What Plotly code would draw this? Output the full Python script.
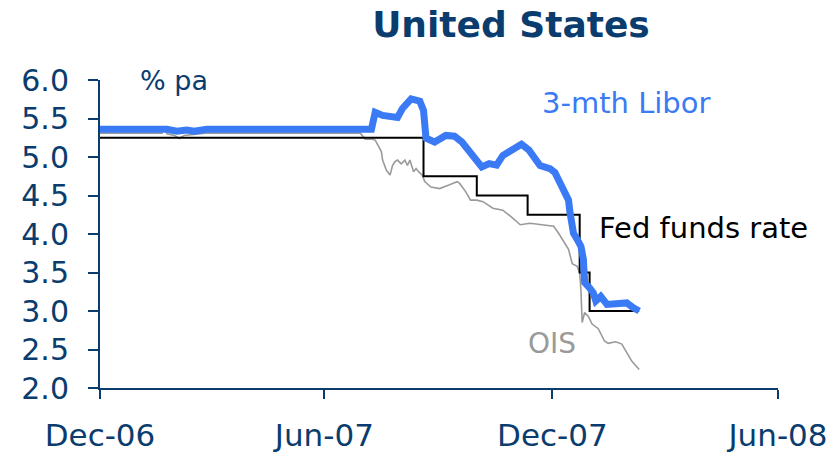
import plotly.graph_objects as go

# ---- data ----
libor_dates = ["2006-12-29", "2007-02-23", "2007-03-03", "2007-03-11", "2007-03-17", "2007-03-27",
               "2007-08-07", "2007-08-10", "2007-08-16", "2007-08-28", "2007-09-01", "2007-09-08",
               "2007-09-15", "2007-09-18", "2007-09-20", "2007-09-27", "2007-10-06", "2007-10-13",
               "2007-10-19", "2007-10-27", "2007-11-04", "2007-11-10", "2007-11-16", "2007-11-21",
               "2007-11-29", "2007-12-06", "2007-12-12", "2007-12-18", "2007-12-21", "2007-12-29",
               "2008-01-02", "2008-01-05", "2008-01-10", "2008-01-13", "2008-01-14", "2008-01-15",
               "2008-01-17", "2008-01-20", "2008-01-23", "2008-01-25", "2008-01-26", "2008-01-30",
               "2008-02-02", "2008-02-04", "2008-02-08", "2008-02-13", "2008-02-23", "2008-02-29",
               "2008-03-05", "2008-03-10"]
libor_vals = [5.36, 5.36, 5.335, 5.35, 5.335, 5.36,
              5.36, 5.58, 5.54, 5.515, 5.63, 5.755,
              5.725, 5.605, 5.245, 5.195, 5.28, 5.27,
              5.195, 5.02, 4.87, 4.915, 4.895, 5.02,
              5.11, 5.165, 5.09, 4.94, 4.89, 4.85,
              4.80, 4.70, 4.55, 4.44, 4.30, 4.18,
              4.01, 3.93, 3.84, 3.67, 3.37, 3.30,
              3.235, 3.13, 3.19, 3.085, 3.10, 3.105,
              3.045, 3.00]

ois_dates = ["2006-12-29", "2007-02-19", "2007-02-21", "2007-02-23", "2007-03-01", "2007-03-05",
             "2007-03-09", "2007-03-16", "2007-03-26", "2007-07-29", "2007-08-02", "2007-08-08",
             "2007-08-10", "2007-08-13", "2007-08-15", "2007-08-16", "2007-08-19", "2007-08-22",
             "2007-08-24", "2007-08-26", "2007-08-28", "2007-08-31", "2007-09-03", "2007-09-05",
             "2007-09-07", "2007-09-10", "2007-09-12", "2007-09-14", "2007-09-17", "2007-09-19",
             "2007-09-24", "2007-10-01", "2007-10-05", "2007-10-09", "2007-10-15", "2007-10-17",
             "2007-10-22", "2007-10-26", "2007-10-31", "2007-11-05", "2007-11-13", "2007-11-21",
             "2007-11-29", "2007-12-05", "2007-12-13", "2007-12-22", "2008-01-01", "2008-01-05",
             "2008-01-10", "2008-01-13", "2008-01-16", "2008-01-20", "2008-01-22", "2008-01-23",
             "2008-01-24", "2008-01-26", "2008-01-29", "2008-02-01", "2008-02-06", "2008-02-11",
             "2008-02-14", "2008-02-20", "2008-02-25", "2008-02-29", "2008-03-04", "2008-03-10"]
ois_vals = [5.31, 5.31, 5.39, 5.30, 5.28, 5.24,
            5.28, 5.29, 5.31, 5.31, 5.23, 5.23,
            5.22, 5.13, 5.07, 4.96, 4.83, 4.765,
            4.89, 4.94, 4.96, 4.91, 4.96, 4.89,
            4.96, 4.81, 4.85, 4.81, 4.765, 4.68,
            4.61, 4.59, 4.61, 4.64, 4.68, 4.66,
            4.55, 4.44, 4.44, 4.42, 4.335, 4.31,
            4.205, 4.12, 4.14, 4.12, 4.10, 4.01,
            3.88, 3.80, 3.615, 3.58, 3.495, 3.28,
            2.85, 2.98, 2.93, 2.83, 2.77, 2.61,
            2.58, 2.60, 2.57, 2.46, 2.35, 2.24]

fed_dates = ["2006-12-29", "2007-09-18", "2007-10-31", "2007-12-11", "2008-01-22", "2008-01-30", "2008-03-10"]
fed_vals = [5.25, 4.75, 4.50, 4.25, 3.50, 3.00, 3.00]

x_tick_dates = ["2006-12-31", "2007-06-30", "2007-12-31", "2008-06-30"]
x_tick_labels = ["Dec-06", "Jun-07", "Dec-07", "Jun-08"]
y_ticks = [2.0, 2.5, 3.0, 3.5, 4.0, 4.5, 5.0, 5.5, 6.0]

# ---- styles ----
NAVY = "#0b3c6e"
BLUE = "#3a7af4"
GREY = "#9a9a9a"
FONT = "DejaVu Sans"

fig = go.Figure()
fig.add_trace(go.Scatter(x=ois_dates, y=ois_vals, mode="lines",
                         line=dict(color=GREY, width=1.6), hoverinfo="skip"))
fig.add_trace(go.Scatter(x=fed_dates, y=fed_vals, mode="lines",
                         line=dict(color="black", width=2, shape="hv"), hoverinfo="skip"))
fig.add_trace(go.Scatter(x=libor_dates, y=libor_vals, mode="lines",
                         line=dict(color=BLUE, width=7), hoverinfo="skip"))

annots = [
    dict(x="2007-01-31", y=6.0, text="% pa", font=dict(color=NAVY, size=27)),
    dict(x="2007-12-21", y=5.70, text="3-mth Libor", font=dict(color=BLUE, size=29)),
    dict(x="2008-02-05", y=4.08, text="Fed funds rate", font=dict(color="black", size=29)),
    dict(x="2007-12-10", y=2.58, text="OIS", font=dict(color=GREY, size=28)),
]
for a in annots:
    fig.add_annotation(xref="x", yref="y", showarrow=False, xanchor="left", yanchor="middle",
                       font_family=FONT, **a)

fig.update_layout(
    width=839, height=452,
    margin=dict(l=100, r=61, t=80, b=64, autoexpand=False),
    paper_bgcolor="white", plot_bgcolor="white",
    showlegend=False,
    font=dict(family=FONT, color=NAVY),
    title=dict(text="<b>United States</b>", font=dict(family=FONT, size=36, color=NAVY),
               x=0.609, xanchor="center", y=0.947, yanchor="middle", xref="container", yref="container",
               automargin=False),
)
fig.update_xaxes(type="date", range=["2006-12-31", "2008-06-30"],
                 tickmode="array", tickvals=x_tick_dates, ticktext=x_tick_labels,
                 showline=True, linecolor=NAVY, linewidth=2,
                 ticks="outside", ticklen=9, tickwidth=2, tickcolor=NAVY,
                 ticklabelstandoff=10,
                 tickfont=dict(family=FONT, size=31, color=NAVY),
                 showgrid=False, zeroline=False, fixedrange=True, automargin=False)
fig.update_yaxes(range=[2, 6], tickmode="array", tickvals=y_ticks,
                 ticktext=[f"{v:.1f}" for v in y_ticks],
                 showline=True, linecolor=NAVY, linewidth=2,
                 ticks="outside", ticklen=10, tickwidth=2, tickcolor=NAVY,
                 ticklabelstandoff=13,
                 tickfont=dict(family=FONT, size=30, color=NAVY),
                 showgrid=False, zeroline=False, fixedrange=True, automargin=False)

# remove the default 8px page margin so the figure fills the window exactly
fig.write_html("out.html", config={"displayModeBar": False},
               post_script="document.body.style.margin='0px';")
